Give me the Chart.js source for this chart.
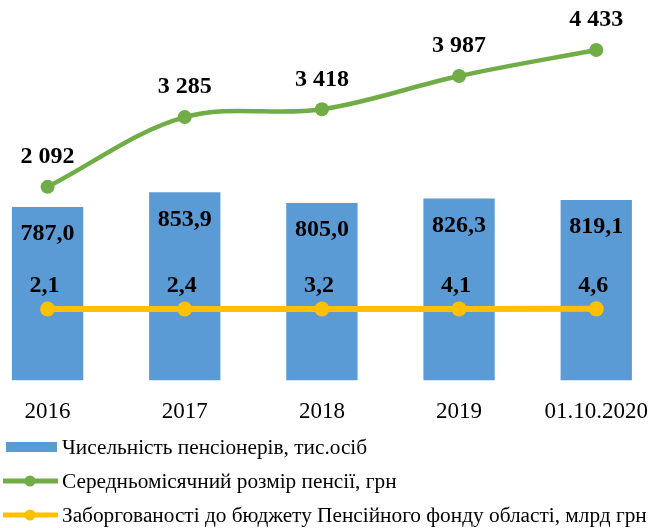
<!DOCTYPE html>
<html>
<head>
<meta charset="utf-8">
<script src="https://cdn.jsdelivr.net/npm/chart.js@4"></script>
<style>
  body { margin: 0; background: #fff; }
  #wrap { position: relative; width: 654px; height: 528px; overflow: hidden; }
  /* область побудови в оригіналі ширша за картинку — зсуваємо полотно */
  #box { position: absolute; left: -21px; top: 0; width: 687px; height: 444px; }
  #legend { position: absolute; left: 0; top: 433px; font-family: 'Liberation Serif', serif; font-size: 21.3px; color: #000; }
  .row { position: relative; height: 34px; line-height: 28px; white-space: nowrap; }
  .mk { position: absolute; left: 3px; top: 0; width: 55px; height: 28px; }
  .txt { position: absolute; left: 62px; top: 0; }
</style>
</head>
<body>
<div id="wrap">
  <div id="box"><canvas id="chart"></canvas></div>
  <div id="legend"></div>
</div>
<script>
// дані з діаграми
const categories = ['2016', '2017', '2018', '2019', '01.10.2020'];
const pensioners = [787.0, 853.9, 805.0, 826.3, 819.1];      // тис. осіб
const avgPension = [2092, 3285, 3418, 3987, 4433];           // грн
const arrears = [2.1, 2.4, 3.2, 4.1, 4.6];                   // млрд грн

const seriesNames = [
    'Чисельність пенсіонерів, тис.осіб',
    'Середньомісячний розмір пенсії, грн',
    'Заборгованості до бюджету Пенсійного фонду області, млрд грн',
];

const BLUE = '#5b9bd5';
const GREEN = '#70ad47';
const YELLOW = '#ffc000';

Chart.defaults.font.family = "'Liberation Serif', serif";
Chart.defaults.color = '#000';

// формат: 2 092 / 787,0
const fmtThousands = v => String(Math.round(v)).replace(/\B(?=(\d{3})+(?!\d))/g, ' ');
const fmtDec = v => v.toFixed(1).replace('.', ',');

// підписи значень (без datalabels плагіна)
const valueLabels = {
    id: 'valueLabels',
    afterDatasetsDraw(chart) {
        const ctx = chart.ctx;
        ctx.save();
        ctx.font = "bold 24px 'Liberation Serif', serif";
        ctx.fillStyle = '#000';
        ctx.textAlign = 'center';
        ctx.textBaseline = 'middle';
        chart.data.datasets.forEach((ds, i) => {
            const meta = chart.getDatasetMeta(i);
            meta.data.forEach((el, j) => {
                const text = ds.fmt(ds.data[j]);
                ctx.fillText(text, el.x + (ds.labelDx || 0), el.y + ds.labelDy);
            });
        });
        ctx.restore();
    },
};

const chart = new Chart(document.getElementById('chart'), {
    type: 'bar',
    data: {
        labels: categories,
        datasets: [
            {
                type: 'line',
                label: seriesNames[2],
                data: arrears,
                yAxisID: 'y2',
                borderColor: YELLOW,
                backgroundColor: YELLOW,
                borderWidth: 6,
                pointRadius: 7.5,
                pointBackgroundColor: YELLOW,
                pointBorderWidth: 0,
                tension: 0,
                order: 0,
                fmt: fmtDec,
                labelDy: -23,
                labelDx: -3,
            },
            {
                type: 'line',
                label: seriesNames[1],
                data: avgPension,
                yAxisID: 'y2',
                borderColor: GREEN,
                backgroundColor: GREEN,
                borderWidth: 4.5,
                pointRadius: 7,
                pointBackgroundColor: GREEN,
                pointBorderWidth: 0,
                tension: 0.35,
                order: 1,
                fmt: fmtThousands,
                labelDy: -30,
            },
            {
                label: seriesNames[0],
                data: pensioners,
                yAxisID: 'y',
                backgroundColor: BLUE,
                categoryPercentage: 0.52,
                barPercentage: 1,
                order: 2,
                fmt: fmtDec,
                labelDy: 27,
            },
        ],
    },
    options: {
        responsive: true,
        maintainAspectRatio: false,
        animation: false,
        layout: { padding: 0, autoPadding: false },
        plugins: {
            legend: { display: false },
            tooltip: { enabled: false },
        },
        scales: {
            x: {
                grid: { display: false, drawTicks: false },
                border: { display: false },
                ticks: { font: { size: 23 }, padding: 18, maxRotation: 0 },
            },
            y: { display: false, min: 0, max: 1727 },
            y2: { display: false, min: -1219, max: 5288 },
        },
    },
    plugins: [valueLabels],
});

// легенда в html, порядок як в оригіналі
const legendEl = document.getElementById('legend');
[2, 1, 0].forEach(i => {
    const ds = chart.data.datasets[i];
    const row = document.createElement('div');
    row.className = 'row';
    let mk;
    if (ds.type === 'line') {
        mk = `<svg class="mk" width="55" height="28"><line x1="0" y1="14" x2="55" y2="14" stroke="${ds.borderColor}" stroke-width="5"/><circle cx="27" cy="14" r="5.5" fill="${ds.borderColor}"/></svg>`;
    } else {
        mk = `<svg class="mk" width="55" height="28"><rect x="3" y="9" width="51" height="10" fill="${ds.backgroundColor}"/></svg>`;
    }
    row.innerHTML = mk + `<span class="txt">${ds.label}</span>`;
    legendEl.appendChild(row);
});
</script>
</body>
</html>
